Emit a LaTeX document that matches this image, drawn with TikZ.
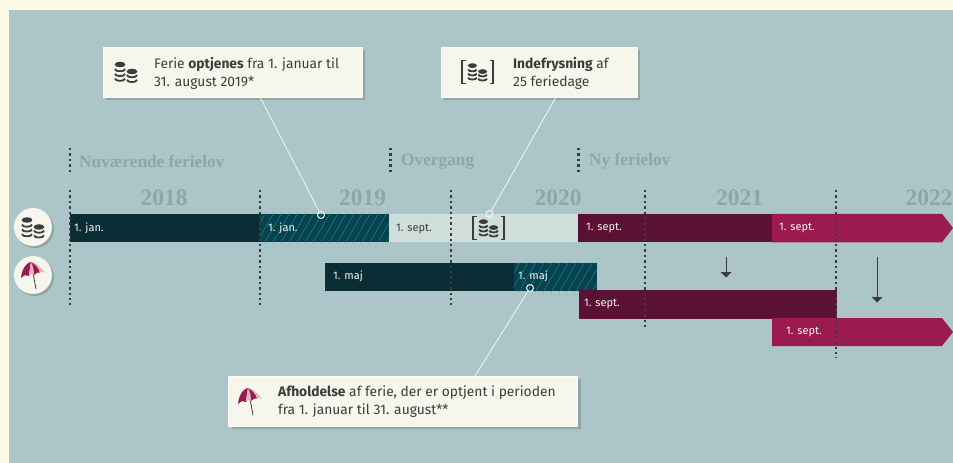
\documentclass[tikz,border=0pt]{standalone}
\usepackage{fontspec}
\setmainfont{Fira Sans}
\newfontfamily\yearfont{Liberation Serif}
\usetikzlibrary{positioning}
\usetikzlibrary{calc}
\usetikzlibrary{patterns.meta}
\definecolor{paper}{HTML}{FAFAE6}
\definecolor{sea}{HTML}{ACC5C8}
\definecolor{boxfill}{HTML}{F6F6EC}
\definecolor{boxshade}{HTML}{8FA5A8}
\definecolor{ink}{HTML}{3C3C3C}
\definecolor{faded}{HTML}{8DA6AA}
\definecolor{petrol}{HTML}{0A2C35}
\definecolor{hatchbase}{HTML}{024550}
\definecolor{frozen}{HTML}{CFDDDB}
\definecolor{plum}{HTML}{5A1133}
\definecolor{crimson}{HTML}{9C1B4E}
\definecolor{blush}{HTML}{E3B6C4}
\tikzset{
    barbox/.style={minimum height=28.5pt, minimum width=#1, inner sep=0pt, outer sep=0pt},
    hatched/.style={fill=hatchbase, postaction={pattern={Lines[angle=60,distance=7pt,line width=0.3pt]}, pattern color=sea!50!hatchbase}},
    datelabel/.style={anchor=west, inner sep=0pt, font=\fontsize{11}{12}\selectfont, text=boxfill},
    yearlabel/.style={inner sep=0pt, font=\fontsize{23.5}{26}\yearfont\bfseries, text=faded},
    phaselabel/.style={anchor=west, inner sep=0pt, font=\fontsize{17.3}{20}\yearfont\bfseries, text=faded},
    callout/.style={fill=boxfill, minimum height=50pt, inner sep=0pt, outer sep=0pt, draw=white!60!boxfill, line width=0.5pt},
    calloutshade/.style={fill=boxshade, minimum height=50pt, inner sep=0pt},
    callouttext/.style={anchor=west, inner sep=0pt, align=left, text=ink, font=\fontsize{13.8}{18}\selectfont},
    iconcircle/.style={circle, fill=boxfill, minimum size=38pt, inner sep=0pt},
    ringdot/.style={circle, draw=boxfill, fill=none, line width=1pt, minimum size=7pt, inner sep=0pt},
    leader/.style={draw=boxfill, line width=0.8pt},
    yearline/.style={draw=ink, line width=2.5pt, dash pattern=on 2.4pt off 3pt},
    shifted/.style={draw=ink, line width=0.8pt},
    coins/.pic={
        \foreach \h in {0,1,2}
            \draw[ink, line width=1.8pt] (-11,-3+4.8*\h) .. controls (-11,0+4.8*\h) and (-1,0+4.8*\h) .. (-1,-3+4.8*\h);
        \fill[ink] (-6,-7.5) ellipse [x radius=5.4, y radius=2.8];
        \foreach \h in {0,1}
            \draw[ink, line width=1.8pt] (1,3+4.8*\h) .. controls (1,6+4.8*\h) and (11,6+4.8*\h) .. (11,3+4.8*\h);
        \fill[ink] (6,-0.5) ellipse [x radius=5.4, y radius=2.8];
    },
    brolly/.pic={
        \draw[ink, line width=0.8pt] (-2,-13) -- (3,14);
        \fill[crimson] (-12,3) .. controls (-11,-8) and (-5,-13) .. (-2,-13)
            .. controls (-3,-8) and (-3.5,-3) .. (-4,1) .. controls (-6,-1) and (-9,0) .. (-12,3) -- cycle;
        \fill[blush] (-2,-13) .. controls (-3,-8) and (-3.5,-3) .. (-4,1) .. controls (-3,-1.5) and (0,-1.5) .. (1,0) .. controls (1,-5) and (0,-10) .. (-2,-13) -- cycle;
        \fill[crimson] (-2,-13) .. controls (0,-10) and (1,-5) .. (1,0) .. controls (3,-2.5) and (6,-3) .. (7,-2.5) .. controls (6,-7) and (2,-11.5) .. (-2,-13) -- cycle;
        \fill[blush] (-2,-13) .. controls (2,-11.5) and (6,-7) .. (7,-2.5) .. controls (8,-3.5) and (10,-3.5) .. (12,-2) .. controls (8,-8) and (3,-12.5) .. (-2,-13) -- cycle;
    },
    bracketed/.pic={
        \draw[ink, line width=1.3pt] (-12,-11.5) -- (-15.5,-11.5) -- (-15.5,11.5) -- (-12,11.5);
        \draw[ink, line width=1.3pt] (12,-11.5) -- (15.5,-11.5) -- (15.5,11.5) -- (12,11.5);
        \pic[scale=0.85] {coins};
    }
}
\begin{document}
\begin{tikzpicture}[x=1pt, y=-1pt]
    \useasboundingbox (0,0) rectangle (953,463);
    \clip (0,0) rectangle (953,463);
    \fill[paper] (0,0) rectangle (953,463);
    \fill[sea] (9,10) rectangle (953,463);

    % rows of bars
    \node[barbox=190pt, fill=petrol, anchor=west] (earn_a) at (70,228) {};
    \node[barbox=129pt, hatched, right=0pt of earn_a] (earn_b) {};
    \node[barbox=189pt, fill=frozen, right=0pt of earn_b] (earn_c) {};
    \node[barbox=194pt, fill=plum, right=0pt of earn_c] (earn_d) {};
    \fill[crimson] (772,213.75) -- (942,213.75) -- (953,228) -- (942,242.25) -- (772,242.25) -- cycle;

    \node[barbox=189pt, fill=petrol, anchor=west] (use_a) at (324.5,277) {};
    \node[barbox=83pt, hatched, right=0pt of use_a] (use_b) {};
    \node[barbox=258pt, fill=plum, anchor=west] (use_c) at (578.5,304.5) {};
    \fill[crimson] (772,318) -- (942,318) -- (953,332) -- (942,346) -- (772,346) -- cycle;

    % year lines
    \draw[yearline] (70,190) -- (70,305);
    \draw[yearline] (260,190) -- (260,305);
    \draw[yearline] (451,190) -- (451,305);
    \draw[yearline] (645,190) -- (645,328);
    \draw[yearline] (836,190) -- (836,358);
    \draw[yearline] (70,148) -- (70,173);
    \draw[yearline] (390.5,148) -- (390.5,173);
    \draw[yearline] (578.5,148) -- (578.5,173);

    \node[phaselabel] (phase_a) at (79,161.5) {Nuværende ferielov};
    \node[phaselabel] (phase_b) at (401,161.5) {Overgang};
    \node[phaselabel] (phase_c) at (589,161.5) {Ny ferielov};

    \node[yearlabel] (year_a) at (164,198) {2018};
    \node[yearlabel] (year_b) at (362.5,198) {2019};
    \node[yearlabel] (year_c) at (558,198) {2020};
    \node[yearlabel] (year_d) at (739.5,198) {2021};
    \node[yearlabel] (year_e) at (929,198) {2022};

    \node[datelabel] (date_a) at (74,228) {1. jan.};
    \node[datelabel] (date_b) at (268,228) {1. jan.};
    \node[datelabel, text=ink] (date_c) at (396,228.5) {1. sept.};
    \node[datelabel] (date_d) at (586,228) {1. sept.};
    \node[datelabel] (date_e) at (779,228) {1. sept.};
    \node[datelabel] (date_f) at (333,276.5) {1. maj};
    \node[datelabel] (date_g) at (518,276.5) {1. maj};
    \node[datelabel] (date_h) at (584,304) {1. sept.};
    \node[datelabel] (date_i) at (786,332) {1. sept.};

    \pic at (488.5,228) {bracketed};

    % side icons
    \node[iconcircle, fill=boxshade] (side_shade_a) at (35,229) {};
    \node[iconcircle, fill=boxshade] (side_shade_b) at (35,277) {};
    \node[iconcircle] (side_coins) at (33,227) {};
    \node[iconcircle] (side_brolly) at (33,275) {};
    \pic at (33,227.5) {coins};
    \pic at (33,275) {brolly};

    % shift arrows
    \coordinate (shift_a_top) at (726,257);
    \coordinate (shift_a_end) at (726,277);
    \coordinate (shift_b_top) at (877,257);
    \coordinate (shift_b_end) at (877,301);
    \draw[shifted] (shift_a_top) -- (shift_a_end);
    \fill[ink] (720.5,272) -- (731.5,272) -- (726,277.5) -- cycle;
    \draw[shifted] (shift_b_top) -- (shift_b_end);
    \fill[ink] (871.5,297) -- (882.5,297) -- (877,302.5) -- cycle;

    % callouts
    \node[calloutshade, minimum width=259pt] (shade_a) at (235.5,75) {};
    \node[calloutshade, minimum width=196pt] (shade_b) at (542,75) {};
    \node[calloutshade, minimum width=349pt] (shade_c) at (406.5,404) {};
    \node[callout, minimum width=259pt] (box_a) at (232.5,72) {};
    \node[callout, minimum width=196pt] (box_b) at (539,72) {};
    \node[callout, minimum width=349pt] (box_c) at (402.5,401) {};
    \pic at (126,72) {coins};
    \pic at (477.5,72) {bracketed};
    \pic at (250,401) {brolly};
    \node[callouttext] (text_a) at (154,73) {Ferie \textbf{optjenes} fra 1. januar til\\31. august 2019*};
    \node[callouttext] (text_b) at (513,73) {\textbf{Indefrysning} af\\25 feriedage};
    \node[callouttext] (text_c) at (278,402) {\textbf{Afholdelse} af ferie, der er optjent i perioden\\fra 1. januar til 31. august**};

    % leaders
    \node[ringdot] (ring_a) at (321,215) {};
    \node[ringdot] (ring_b) at (489.5,214) {};
    \node[ringdot] (ring_c) at (530,288) {};
    \coordinate (foot_a) at (260,97);
    \coordinate (foot_b) at (556,97);
    \coordinate (foot_c) at (475,376);
    \draw[leader] (foot_a) -- (ring_a);
    \draw[leader] (foot_b) -- (ring_b);
    \draw[leader] (foot_c) -- (ring_c);
\end{tikzpicture}
\end{document}
